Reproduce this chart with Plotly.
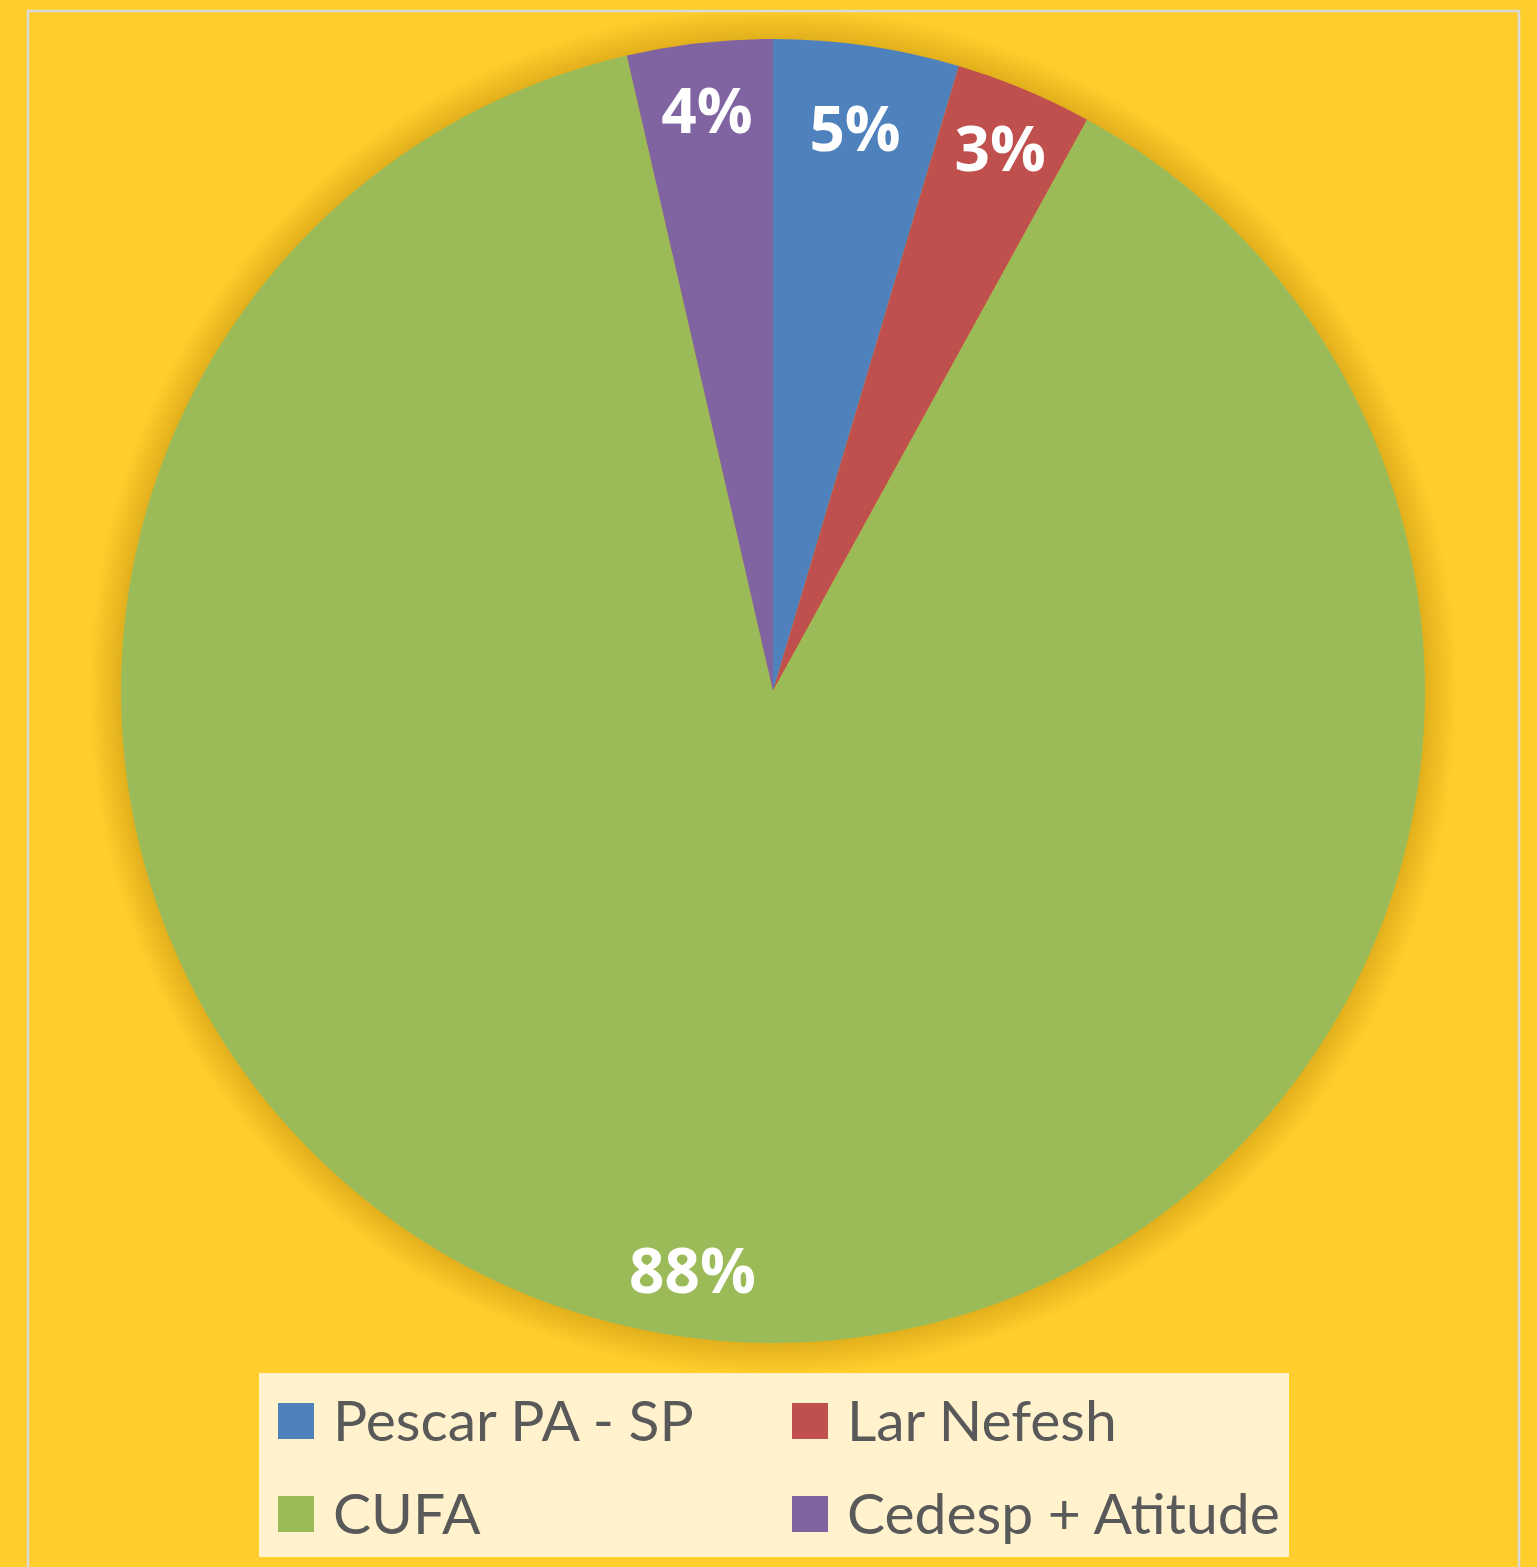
import math
import plotly.graph_objects as go

# ---- data ----
categories = ["Pescar PA - SP", "Lar Nefesh", "CUFA", "Cedesp + Atitude"]
values = [4.6, 3.4, 88.4, 3.6]
colors = ["#4F81BD", "#C0504D", "#9BBB59", "#8064A2"]

W, H = 1537, 1567
BG = "#FFCD2C"

def px(x):
    return x / W

def py(y):
    return 1 - y / H

cx, cy, R = 773, 691, 652
LABEL_FONT = dict(family="Open Sans", size=62, color="white", weight="bold")

# large slice label is placed near the rim (like the original), others by plotly
big = values.index(max(values))
textpos = ["none" if i == big else "inside" for i in range(len(values))]

fig = go.Figure()
fig.add_trace(go.Pie(
    labels=categories,
    values=values,
    marker=dict(colors=colors, line=dict(width=0)),
    sort=False,
    direction="clockwise",
    rotation=0,
    texttemplate="%{percent:.0%}",
    textposition=textpos,
    insidetextorientation="horizontal",
    textfont=LABEL_FONT,
    domain=dict(x=[px(cx - R), px(cx + R)], y=[py(cy + R), py(cy - R)]),
    showlegend=False,
    hoverinfo="label+percent",
))

shapes = []
# soft shadow around the pie
for k in range(1, 15):
    r = R + k * 2.2
    shapes.append(dict(
        type="circle", layer="below", xref="paper", yref="paper",
        xsizemode="pixel", ysizemode="pixel",
        xanchor=px(cx), yanchor=py(cy),
        x0=-r, x1=r, y0=-r, y1=r,
        fillcolor="rgba(170,110,0,0.022)", line=dict(width=0),
    ))
# chart area border
shapes.append(dict(
    type="rect", layer="below", xref="paper", yref="paper",
    x0=px(28), x1=px(1519), y0=-0.02, y1=py(11),
    line=dict(color="#D9D9D9", width=2.5), fillcolor="rgba(0,0,0,0)",
))
# legend box
shapes.append(dict(
    type="rect", layer="above", xref="paper", yref="paper",
    x0=px(259), x1=px(1289), y0=py(1557), y1=py(1373),
    line=dict(width=0), fillcolor="#FFF2CC",
))

annotations = []
# label of the big slice, from its share and mid-angle
total = sum(values)
start = sum(values[:big]) / total * 2 * math.pi
mid = start + values[big] / total * math.pi
rl = 0.895 * R
annotations.append(dict(
    x=px(cx + rl * math.sin(mid)), y=py(cy - rl * math.cos(mid)),
    xref="paper", yref="paper", showarrow=False,
    text=f"{values[big] / total:.0%}", font=LABEL_FONT,
    xanchor="center", yanchor="middle",
))

col_sym_x = [278, 792]
row_y = [1421, 1514]
for i, (lab, col) in enumerate(zip(categories, colors)):
    r_i, c_i = divmod(i, 2)
    sx = col_sym_x[c_i]
    sy = row_y[r_i]
    shapes.append(dict(
        type="rect", layer="above", xref="paper", yref="paper",
        x0=px(sx), x1=px(sx + 36), y0=py(sy + 18), y1=py(sy - 18),
        line=dict(width=0), fillcolor=col,
    ))
    annotations.append(dict(
        x=px(sx + 53), y=py(sy - 2), xref="paper", yref="paper",
        text=lab, showarrow=False, xanchor="left", yanchor="middle",
        font=dict(family="Lato", size=57, color="#595959"),
    ))

fig.update_layout(
    width=W, height=H,
    margin=dict(l=0, r=0, t=0, b=0),
    paper_bgcolor=BG, plot_bgcolor=BG,
    shapes=shapes, annotations=annotations,
    showlegend=False,
)

fig.write_html(
    "out.html",
    config={"displayModeBar": False},
    post_script="document.body.style.margin='0';document.body.style.overflow='hidden';",
)
